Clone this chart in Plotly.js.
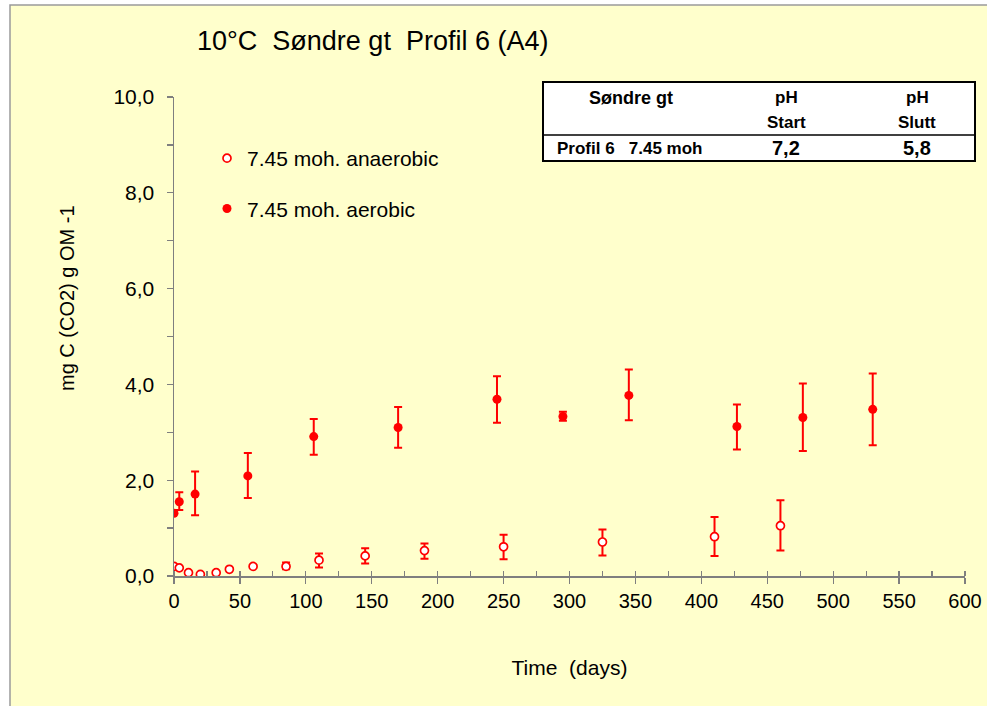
<!DOCTYPE html>
<html>
<head>
<meta charset="utf-8">
<script src="https://cdn.plot.ly/plotly-3.0.1.min.js"></script>
<style>html,body{margin:0;padding:0;background:#fff;}#chart{width:987px;height:706px;}</style>
</head>
<body>
<div id="chart"></div>
<script>
// ---- data ----
const anaerobicDays  = [0, 4, 11, 20, 32, 42, 60, 85, 110, 145, 190, 250, 325, 410, 460];
const anaerobicMean  = [0.20, 0.17, 0.07, 0.035, 0.07, 0.14, 0.20, 0.20, 0.33, 0.42, 0.53, 0.61, 0.71, 0.82, 1.05];
const anaerobicPlus  = [null, null, null, null, null, null, 0.03, 0.08, 0.14, 0.16, 0.15, 0.25, 0.26, 0.41, 0.53];
const anaerobicMinus = [null, null, null, null, null, null, 0.03, 0.06, 0.15, 0.16, 0.17, 0.26, 0.28, 0.40, 0.52];

const aerobicDays  = [0, 4, 16, 56, 106, 170, 245, 295, 345, 427, 477, 530];
const aerobicMean  = [1.31, 1.55, 1.71, 2.09, 2.91, 3.10, 3.69, 3.33, 3.77, 3.12, 3.31, 3.48];
const aerobicPlus  = [null, 0.20, 0.47, 0.48, 0.37, 0.43, 0.48, 0.10, 0.54, 0.46, 0.71, 0.75];
const aerobicMinus = [null, 0.17, 0.44, 0.46, 0.38, 0.42, 0.49, 0.09, 0.52, 0.48, 0.70, 0.75];

const seriesNames = ["7.45 moh. anaerobic", "7.45 moh. aerobic"];
const chartTitle = "10°C\u00a0 Søndre gt\u00a0 Profil 6 (A4)";
const xTitle = "Time\u00a0 (days)";
const yTitle = "mg C (CO2) g OM -1";

const tableHeader = ["Søndre gt", "pH", "Start", "pH", "Slutt"];
const tableRow = ["Profil 6\u00a0\u00a0 7.45 moh", "7,2", "5,8"];

// ---- layout helpers (pixel -> paper) ----
const L = 174, T = 97, W = 791, H = 479;
const px = x => (x - L) / W;
const py = y => (T + H - y) / H;
const RED = "#FF0000";
const FONT = "Liberation Sans, Arial, sans-serif";

const traces = [
  {
    x: anaerobicDays, y: anaerobicMean, name: seriesNames[0], type: "scatter", mode: "markers",
    legendgroup: "a",
    marker: {symbol: "circle", size: 8, color: "#FFFFFF", line: {color: RED, width: 1.7}},
    error_y: {type: "data", symmetric: false, array: anaerobicPlus, arrayminus: anaerobicMinus,
              color: RED, thickness: 2, width: 4}
  },
  {
    x: aerobicDays, y: aerobicMean, name: seriesNames[1], type: "scatter", mode: "markers",
    legendgroup: "b",
    marker: {symbol: "circle", size: 9, color: RED},
    error_y: {type: "data", symmetric: false, array: aerobicPlus, arrayminus: aerobicMinus,
              color: RED, thickness: 2, width: 4}
  }
];

function txt(t, x, y, anchor, size) {
  return {text: "<b>" + t + "</b>", xref: "paper", yref: "paper", x: px(x), y: py(y),
          showarrow: false, xanchor: anchor, yanchor: "middle", font: {family: FONT, size: size, color: "#000"}};
}

const layout = {
  width: 987, height: 706,
  margin: {l: L, r: 987 - L - W, t: T, b: 706 - T - H, pad: 0},
  paper_bgcolor: "#FFFFFF",
  plot_bgcolor: "rgba(0,0,0,0)",
  separators: ", ",
  font: {family: FONT, color: "#000000", size: 20},
  title: {text: chartTitle, x: 197/987, xanchor: "left", xref: "container", y: 1 - 41/706, yref: "container", yanchor: "middle",
          font: {family: FONT, size: 27, color: "#000"}},
  showlegend: true,
  legend: {x: px(207), y: py(138), xanchor: "left", yanchor: "top", bgcolor: "rgba(0,0,0,0)",
           font: {family: FONT, size: 21, color: "#000"}, traceorder: "grouped", tracegroupgap: 20},
  xaxis: {
    range: [0, 600], dtick: 50, tick0: 0, showgrid: false, zeroline: false,
    showline: true, linecolor: "#7F7F7F", linewidth: 1.5,
    ticks: "outside", ticklen: 6, tickwidth: 1.2, tickcolor: "#7F7F7F",
    minor: {dtick: 25, ticks: "inside", ticklen: 5, tickwidth: 1.2, tickcolor: "#7F7F7F", showgrid: false},
    tickfont: {family: FONT, size: 20},
    title: {text: xTitle, font: {family: FONT, size: 21}, standoff: 50},
    fixedrange: true
  },
  yaxis: {
    range: [0, 10], dtick: 2, tick0: 0, tickformat: ".1f", showgrid: false, zeroline: false,
    showline: true, linecolor: "#7F7F7F", linewidth: 1.5,
    ticks: "outside", ticklen: 6, tickwidth: 1.2, tickcolor: "#7F7F7F",
    minor: {dtick: 1, ticks: "outside", ticklen: 6, tickwidth: 1.2, tickcolor: "#7F7F7F", showgrid: false},
    tickfont: {family: FONT, size: 21},
    ticklabelstandoff: 8,
    fixedrange: true
  },
  shapes: [
    {type: "rect", xref: "paper", yref: "paper", layer: "below",
     x0: px(10), x1: px(1000), y0: py(720), y1: py(5),
     fillcolor: "#FFFFCC", line: {color: "#9A9A9A", width: 1.5}},
    {type: "rect", xref: "paper", yref: "paper", layer: "above",
     x0: px(543), x1: px(975), y0: py(161), y1: py(82),
     fillcolor: "#FFFFFF", line: {color: "#000000", width: 2}},
    {type: "line", xref: "paper", yref: "paper", layer: "above",
     x0: px(543), x1: px(975), y0: py(135), y1: py(135),
     line: {color: "#000000", width: 1.5}}
  ],
  annotations: [
    {text: yTitle, xref: "paper", yref: "paper", x: px(67), y: py(298), textangle: -90,
     showarrow: false, xanchor: "center", yanchor: "middle", font: {family: FONT, size: 20}},
    txt(tableHeader[0], 631, 98, "center", 18),
    txt(tableHeader[1], 786, 98, "center", 17),
    txt(tableHeader[2], 786, 122, "center", 17),
    txt(tableHeader[3], 917, 98, "center", 17),
    txt(tableHeader[4], 917, 122, "center", 17),
    txt(tableRow[0], 555, 148, "left", 17),
    txt(tableRow[1], 786, 148, "center", 20),
    txt(tableRow[2], 917, 148, "center", 20)
  ]
};

Plotly.newPlot("chart", traces, layout, {displayModeBar: false, staticPlot: true});
</script>
</body>
</html>
